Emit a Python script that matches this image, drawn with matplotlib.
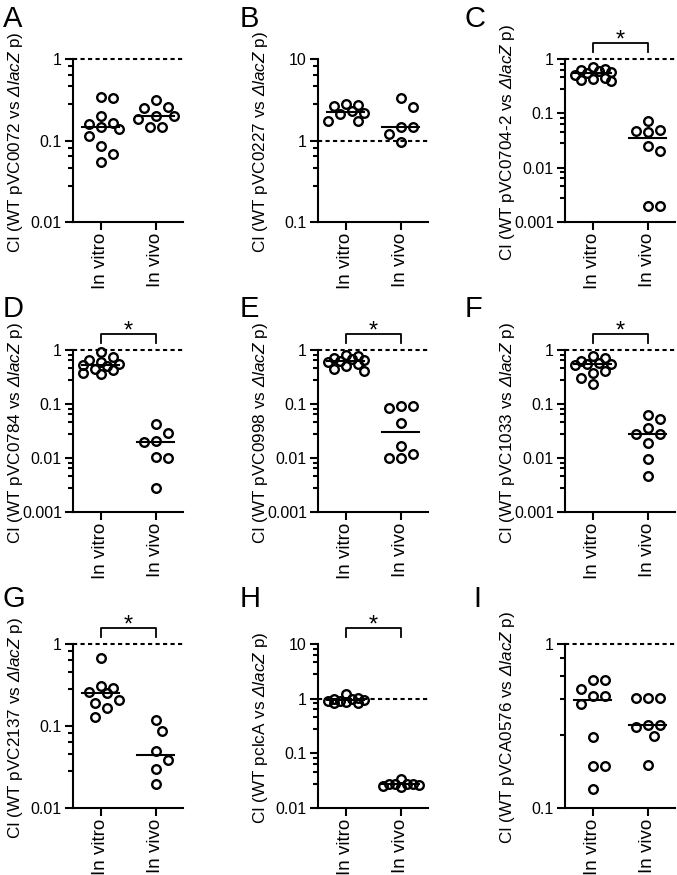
import numpy as np
import matplotlib
matplotlib.use("Agg")
import matplotlib.pyplot as plt
from matplotlib.ticker import FixedLocator, FixedFormatter, NullFormatter
from matplotlib.transforms import blended_transform_factory

plt.rcParams['font.family'] = ['Liberation Sans', 'DejaVu Sans']
plt.rcParams['mathtext.fontset'] = 'custom'
plt.rcParams['mathtext.rm'] = 'Liberation Sans:italic'
plt.rcParams['mathtext.it'] = 'Liberation Sans:italic'

# data (CI values)
groups = ["In vitro", "In vivo"]
letters = ["A", "B", "C", "D", "E", "F", "G", "H", "I"]
plasmids = ["pVC0072", "pVC0227", "pVC0704-2", "pVC0784", "pVC0998",
            "pVC1033", "pVC2137", "pclcA", "pVCA0576"]
ylims = [(0.01, 1), (0.1, 10), (0.001, 1), (0.001, 1), (0.001, 1),
         (0.001, 1), (0.01, 1), (0.01, 10), (0.1, 1)]
significant = [False, False, True, True, True, True, True, True, False]

a_vitro = [0.34, 0.33, 0.20, 0.165, 0.16, 0.145, 0.14, 0.113, 0.086, 0.069, 0.055]
a_vivo = [0.31, 0.26, 0.25, 0.20, 0.20, 0.185, 0.145, 0.145]
b_vitro = [2.8, 2.7, 2.65, 2.3, 2.2, 2.1, 1.75, 1.72]
b_vivo = [3.3, 2.55, 1.45, 1.45, 1.2, 0.97]
c_vitro = [0.7, 0.66, 0.62, 0.6, 0.58, 0.55, 0.5, 0.45, 0.42, 0.41, 0.4]
c_vivo = [0.072, 0.05, 0.048, 0.045, 0.025, 0.02, 0.002, 0.002]
d_vitro = [0.9, 0.75, 0.65, 0.6, 0.55, 0.53, 0.5, 0.45, 0.42, 0.38, 0.36]
d_vivo = [0.042, 0.029, 0.021, 0.02, 0.0105, 0.0098, 0.0028]
e_vitro = [0.8, 0.78, 0.72, 0.68, 0.65, 0.62, 0.6, 0.55, 0.5, 0.45, 0.4]
e_vivo = [0.09, 0.09, 0.085, 0.044, 0.017, 0.012, 0.01, 0.0098]
f_vitro = [0.78, 0.7, 0.62, 0.58, 0.56, 0.54, 0.52, 0.4, 0.38, 0.3, 0.23]
f_vivo = [0.0625, 0.053, 0.036, 0.028, 0.0276, 0.019, 0.0097, 0.0046]
g_vitro = [0.67, 0.31, 0.29, 0.26, 0.25, 0.21, 0.19, 0.167, 0.128]
g_vivo = [0.119, 0.088, 0.049, 0.039, 0.0297, 0.0198]
h_vitro = [1.2, 1.05, 1.0, 0.98, 0.95, 0.92, 0.9, 0.88, 0.85, 0.85]
h_vivo = [0.034, 0.028, 0.028, 0.027, 0.027, 0.026, 0.025, 0.024]
i_vitro = [0.6, 0.6, 0.53, 0.48, 0.48, 0.43, 0.27, 0.18, 0.18, 0.13]
i_vivo = [0.467, 0.467, 0.467, 0.32, 0.32, 0.31, 0.274, 0.182]

vitro = [a_vitro, b_vitro, c_vitro, d_vitro, e_vitro, f_vitro, g_vitro, h_vitro, i_vitro]
vivo = [a_vivo, b_vivo, c_vivo, d_vivo, e_vivo, f_vivo, g_vivo, h_vivo, i_vivo]

W, H = 677, 875
col_left = [73, 318, 565]
row_top = [59, 350, 644]
row_bot = [222, 512, 808]
ax_w = 110
letter_x = [3, 240, 465]
letter_y = [5, 295, 585]


def swarm_offsets(ax, vals, step=6, diam=11.5, max_off=21):
    # simple beeswarm in pixel space, returns offsets in data units
    vals = np.asarray(vals, dtype=float)
    pxu = ax.transData.transform((1, 1))[0] - ax.transData.transform((0, 1))[0]
    ypix = ax.transData.transform(np.column_stack([np.zeros(len(vals)), vals]))[:, 1]
    cands = [0.0]
    k = 1
    while k * step <= max_off:
        cands += [k * step, -k * step]
        k += 1
    placed = []
    offs = np.zeros(len(vals))
    for i in np.argsort(-vals, kind="stable"):
        best, best_c, best_d = None, 0.0, -1
        for c in cands:
            dmin = min([np.hypot(c - px, ypix[i] - py) for px, py in placed], default=1e9)
            if dmin >= diam:
                best = c
                break
            if dmin > best_d:
                best_d, best_c = dmin, c
        if best is None:
            best = best_c
        offs[i] = best
        placed.append((best, ypix[i]))
    return offs / pxu


fig = plt.figure(figsize=(W / 100, H / 100), dpi=100)

for p in range(9):
    r, c = divmod(p, 3)
    ax = fig.add_axes([col_left[c] / W, 1 - row_bot[r] / H,
                       ax_w / W, (row_bot[r] - row_top[r]) / H])
    ax.set_yscale("log")
    ax.set_xlim(-0.5, 1.5)
    lo, hi = ylims[p]
    ax.set_ylim(lo, hi)

    # ticks: decades labelled, minor ticks at 2.8, 4.6, 6.4, 8.2 per decade
    decs = [10.0 ** e for e in range(int(round(np.log10(lo))), int(round(np.log10(hi))) + 1)]
    ax.yaxis.set_major_locator(FixedLocator(decs))
    ax.yaxis.set_major_formatter(FixedFormatter([f"{d:g}" for d in decs]))
    minors = [m * d for d in decs[:-1] for m in (2.8, 4.6, 6.4, 8.2)]
    ax.yaxis.set_minor_locator(FixedLocator(minors))
    ax.yaxis.set_minor_formatter(NullFormatter())
    ax.tick_params(axis="y", which="major", length=6, width=1.5, labelsize=11.5, pad=2)
    ax.tick_params(axis="y", which="minor", length=3.8, width=1.5)
    ax.set_xticks([0, 1])
    ax.set_xticklabels(groups, rotation=90, fontsize=13.5)
    ax.tick_params(axis="x", length=6, width=1.5, pad=2)

    for s in ("top", "right"):
        ax.spines[s].set_visible(False)
    for s in ("left", "bottom"):
        ax.spines[s].set_linewidth(1.5)

    ax.axhline(1, color="black", lw=1.5, ls=(0, (2, 1.6)), clip_on=False, zorder=1)

    for g, vals in enumerate([vitro[p], vivo[p]]):
        off = swarm_offsets(ax, vals)
        ax.plot(g + off, vals, "o", ms=6.2, mew=1.7, mfc="none", mec="black",
                clip_on=False, zorder=3)
        med = np.median(vals)
        ax.plot([g - 0.33, g + 0.33], [med, med], color="black", lw=1.5, zorder=4)

    ax.set_ylabel(f"CI (WT {plasmids[p]} vs " + r"$\mathit{ΔlacZ}$" + " p)", fontsize=12.3)
    ax.yaxis.set_label_coords(-0.44, 0.49)

    if significant[p]:
        tr = blended_transform_factory(ax.transData, ax.transAxes)
        ax.plot([0, 0, 1, 1], [1.045, 1.10, 1.10, 1.045], color="black", lw=1.3,
                transform=tr, clip_on=False)
        ax.annotate("*", xy=(0.5, 1.10), xycoords=tr, xytext=(0, -3),
                    textcoords="offset points", ha="center", va="baseline", fontsize=17)

    lx = letter_x[c] + (8 if letters[p] == "I" else 0)
    fig.text(lx / W, 1 - letter_y[r] / H, letters[p], fontsize=21, ha="left", va="top")

fig.savefig("out.png", dpi=100)
